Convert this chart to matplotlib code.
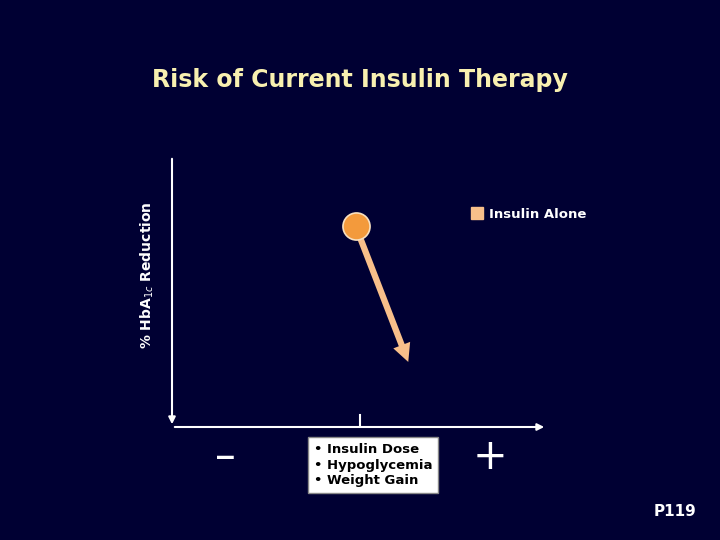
import matplotlib.pyplot as plt

# data (arbitrary axis units 0-10)
start_x, start_y = [4.9], [7.4]
end_x, end_y = [6.3], [2.4]
center_tick = [5.0]
series_label = "Insulin Alone"
box_lines = ["• Insulin Dose", "• Hypoglycemia", "• Weight Gain"]

bg = "#000033"
fig = plt.figure(figsize=(7.2, 5.4), dpi=100, facecolor=bg)
ax = fig.add_axes([172 / 720, 1 - 427 / 540, 375 / 720, 271 / 540])
ax.set_facecolor(bg)
ax.set_xlim(0, 10)
ax.set_ylim(0, 10)
for s in ax.spines.values():
    s.set_visible(False)
ax.set_xticks([])
ax.set_yticks([])

# axes lines with arrowheads
ax.annotate("", xy=(10, 0), xytext=(0, 0), xycoords="data",
            arrowprops=dict(arrowstyle="-|>", color="white", lw=1.5, mutation_scale=10),
            annotation_clip=False)
ax.annotate("", xy=(0, 0), xytext=(0, 10), xycoords="data",
            arrowprops=dict(arrowstyle="-|>", color="white", lw=1.5, mutation_scale=10),
            annotation_clip=False)
ax.plot([center_tick[0]] * 2, [0, 0.45], color="white", lw=1.5)

# arrow and point
ax.annotate("", xy=(end_x[0], end_y[0]), xytext=(start_x[0], start_y[0]),
            arrowprops=dict(arrowstyle="simple,head_width=1.3,head_length=1.3,tail_width=0.45",
                            color="#f8bf8a", lw=0, shrinkA=0, shrinkB=0))
ax.scatter(start_x, start_y, s=380, color="#f39a3c", edgecolor="#f8e0c0", lw=1.2, zorder=5)

# legend marker
fig.patches.append(plt.Rectangle((471 / 720, 1 - 219 / 540), 12 / 720, 12 / 540,
                                 transform=fig.transFigure, color="#f8bf8a"))
fig.text(489 / 720, 1 - 215 / 540, series_label, color="white", fontsize=9.5,
         fontweight="bold", va="center")

fig.text(360 / 720, 1 - 80 / 540, "Risk of Current Insulin Therapy", color="#f8f0b0",
         fontsize=17, fontweight="bold", ha="center", va="center")
fig.text(147 / 720, 1 - 275 / 540, "% HbA$_{1c}$ Reduction", color="white", fontsize=10,
         fontweight="bold", rotation=90, ha="center", va="center")

fig.text(225 / 720, 1 - 457 / 540, "–", color="white", fontsize=30, ha="center", va="center")
fig.text(490 / 720, 1 - 457 / 540, "+", color="white", fontsize=30, ha="center", va="center")
fig.text(314 / 720, 1 - 465 / 540, "\n".join(box_lines), color="black", fontsize=9.5,
         fontweight="bold", va="center", linespacing=1.25,
         bbox=dict(boxstyle="square,pad=0.45", fc="white", ec="#888888"))

fig.text(675 / 720, 1 - 512 / 540, "P119", color="white", fontsize=11, fontweight="bold",
         ha="center", va="center")

fig.savefig("out.png", dpi=100, facecolor=bg)
